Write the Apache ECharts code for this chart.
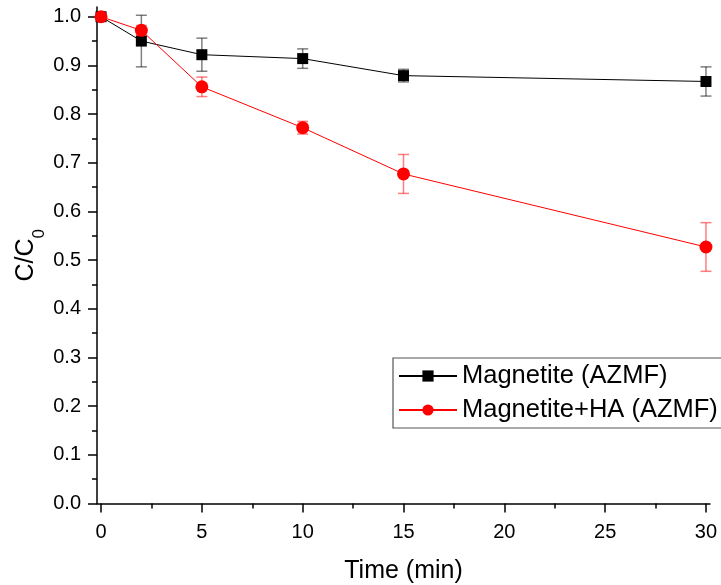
<!DOCTYPE html>
<html>
<head>
<meta charset="utf-8">
<script src="https://cdn.jsdelivr.net/npm/echarts@6/dist/echarts.min.js"></script>
<style>
html,body{margin:0;padding:0;background:#fff;}
#chart{width:721px;height:585px;}
</style>
</head>
<body>
<div id="chart"></div>
<script>
// ---- data ----
const times = [0, 2, 5, 10, 15, 30];
const magnetite = [1.0, 0.950, 0.922, 0.914, 0.879, 0.867];
const magnetiteErr = [0, 0.053, 0.034, 0.020, 0.013, 0.030];
const magnetiteHA = [1.0, 0.972, 0.856, 0.772, 0.677, 0.527];
const magnetiteHAErr = [0, 0.010, 0.020, 0.013, 0.040, 0.050];
const xMajorTicks = [0, 5, 10, 15, 20, 25, 30];
const xMinorTicks = [2.5, 7.5, 12.5, 17.5, 22.5, 27.5];
const yMajorTicks = [0.0, 0.1, 0.2, 0.3, 0.4, 0.5, 0.6, 0.7, 0.8, 0.9, 1.0];
const yMinorTicks = [0.05, 0.15, 0.25, 0.35, 0.45, 0.55, 0.65, 0.75, 0.85, 0.95];
const seriesNames = ['Magnetite (AZMF)', 'Magnetite+HA (AZMF)'];

const FONT = 'Liberation Sans, Arial, sans-serif';

function pairs(xs, ys) { return xs.map((x, i) => [x, ys[i]]); }
function errData(xs, ys, es) { return xs.map((x, i) => [x, ys[i] - es[i], ys[i] + es[i]]); }

function errRender(color) {
  return function (params, api) {
    const x = api.value(0);
    const lo = api.coord([x, api.value(1)]);
    const hi = api.coord([x, api.value(2)]);
    const cap = 5.5;
    const style = { stroke: color, lineWidth: 1.5, fill: null };
    return {
      type: 'group',
      children: [
        { type: 'line', shape: { x1: lo[0], y1: lo[1], x2: hi[0], y2: hi[1] }, style: style },
        { type: 'line', shape: { x1: lo[0] - cap, y1: lo[1], x2: lo[0] + cap, y2: lo[1] }, style: style },
        { type: 'line', shape: { x1: hi[0] - cap, y1: hi[1], x2: hi[0] + cap, y2: hi[1] }, style: style }
      ]
    };
  };
}

const xMin = -0.2, xMax = 30.2, yMin = 0, yMax = 1.02;
const axisLineStyle = { color: '#000', width: 1.5 };

const chart = echarts.init(document.getElementById('chart'), null, { renderer: 'canvas' });
chart.setOption({
  animation: false,
  backgroundColor: '#fff',
  textStyle: { fontFamily: FONT },
  grid: { left: 97, right: 11, top: 7, bottom: 81.5, containLabel: false, outerBoundsMode: 'none' },
  legend: {
    orient: 'vertical',
    left: 393, top: 358,
    padding: [5, 14, 5, 5],
    itemWidth: 58, itemHeight: 14, itemGap: 8,
    borderColor: '#555', borderWidth: 1.2,
    textStyle: { fontFamily: FONT, fontSize: 25.5, color: '#000' },
    data: seriesNames
  },
  xAxis: [{
    type: 'value', min: xMin, max: xMax, position: 'bottom',
    name: 'Time (min)', nameLocation: 'middle', nameGap: 55, nameMoveOverlap: false,
    nameTextStyle: { fontFamily: FONT, fontSize: 25, color: '#000' },
    axisLine: { show: true, onZero: false, lineStyle: axisLineStyle },
    axisTick: { show: true, inside: false, length: 9, customValues: xMajorTicks, lineStyle: axisLineStyle },
    axisLabel: { customValues: xMajorTicks, fontFamily: FONT, fontSize: 20, color: '#000', margin: 19 },
    splitLine: { show: false }
  }, {
    type: 'value', min: xMin, max: xMax, position: 'bottom',
    axisLine: { show: false, onZero: false },
    axisTick: { show: true, length: 5, customValues: xMinorTicks, lineStyle: axisLineStyle },
    axisLabel: { show: false },
    splitLine: { show: false }
  }],
  yAxis: [{
    type: 'value', min: yMin, max: yMax, position: 'left',
    name: '{a|C/C}{b|0}', nameLocation: 'middle', nameGap: 49, nameRotate: 90, nameMoveOverlap: false,
    nameTextStyle: {
      fontFamily: FONT, fontSize: 25, color: '#000',
      rich: {
        a: { fontFamily: FONT, fontSize: 25, color: '#000', lineHeight: 34, verticalAlign: 'top' },
        b: { fontFamily: FONT, fontSize: 17, color: '#000', lineHeight: 34, verticalAlign: 'bottom' }
      }
    },
    axisLine: { show: true, onZero: false, lineStyle: axisLineStyle },
    axisTick: { show: true, length: 9, customValues: yMajorTicks, lineStyle: axisLineStyle },
    axisLabel: { customValues: yMajorTicks, fontFamily: FONT, fontSize: 20, color: '#000', margin: 16,
      formatter: v => v.toFixed(1) },
    splitLine: { show: false }
  }, {
    type: 'value', min: yMin, max: yMax, position: 'left',
    axisLine: { show: false, onZero: false },
    axisTick: { show: true, length: 5, customValues: yMinorTicks, lineStyle: axisLineStyle },
    axisLabel: { show: false },
    splitLine: { show: false }
  }],
  series: [
    {
      name: seriesNames[0], type: 'line', data: pairs(times, magnetite),
      symbol: 'rect', symbolSize: 11, color: '#000',
      lineStyle: { color: '#000', width: 1 }, itemStyle: { color: '#000' },
      z: 3, clip: false
    },
    {
      name: seriesNames[0] + ' err', type: 'custom', data: errData(times, magnetite, magnetiteErr),
      renderItem: errRender('rgba(0,0,0,0.5)'), z: 2, silent: true, clip: false
    },
    {
      name: seriesNames[1], type: 'line', data: pairs(times, magnetiteHA),
      symbol: 'circle', symbolSize: 13, color: '#ff0000',
      lineStyle: { color: '#ff0000', width: 1 }, itemStyle: { color: '#ff0000' },
      z: 5, clip: false
    },
    {
      name: seriesNames[1] + ' err', type: 'custom', data: errData(times, magnetiteHA, magnetiteHAErr),
      renderItem: errRender('rgba(255,0,0,0.5)'), z: 4, silent: true, clip: false
    }
  ]
});
</script>
</body>
</html>
